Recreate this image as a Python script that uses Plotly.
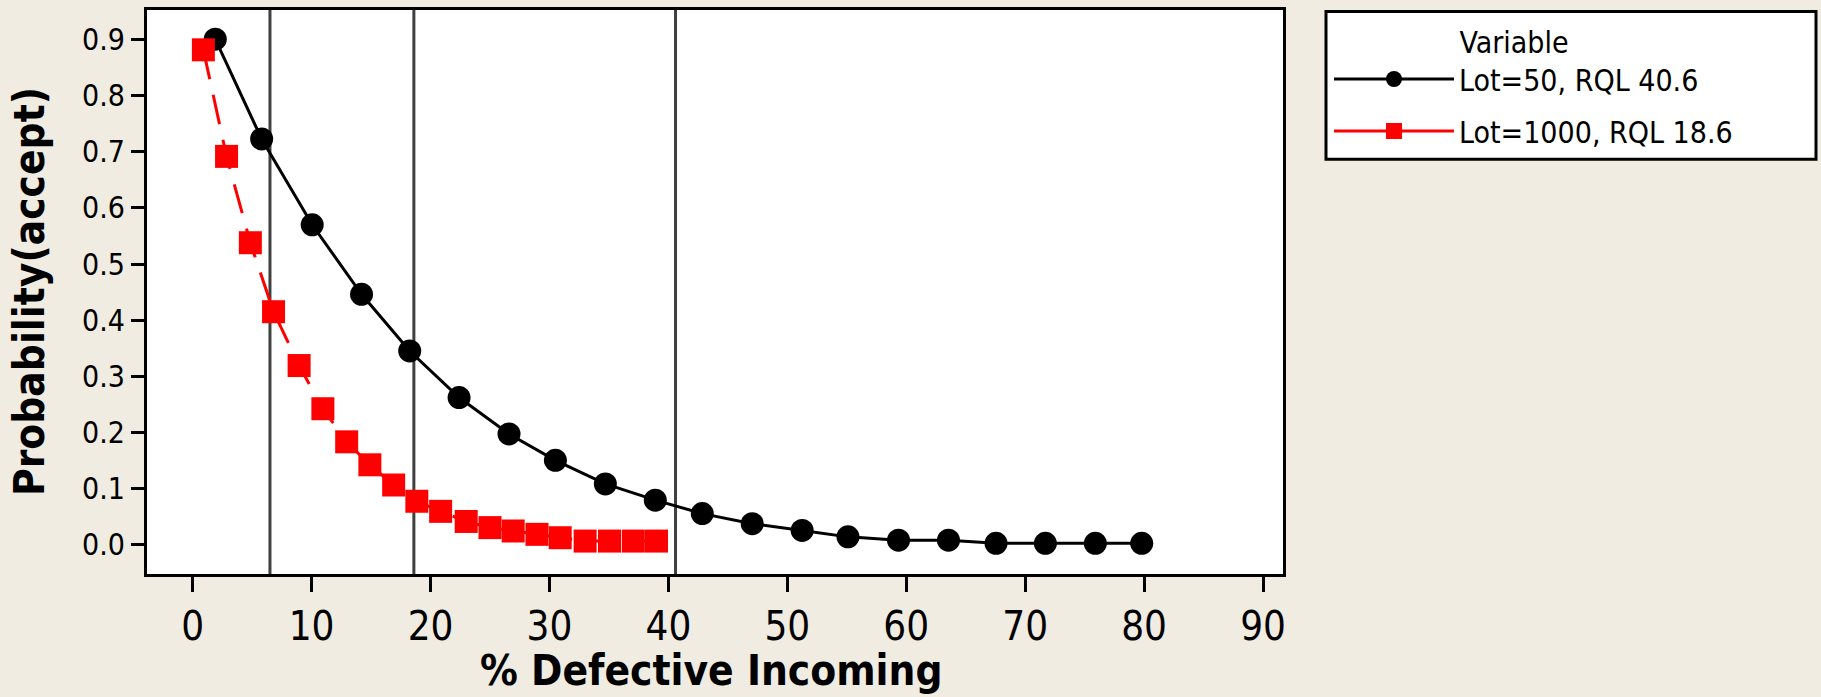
import plotly.graph_objects as go

# ---- data ----
lot50_x = [1.9, 5.8, 10.05, 14.2, 18.25, 22.4, 26.6, 30.5, 34.7, 38.9,
           42.85, 47.05, 51.25, 55.1, 59.35, 63.55, 67.55, 71.7, 75.9, 79.8]
lot50_y = [0.901, 0.723, 0.570, 0.446, 0.345, 0.262, 0.197, 0.150, 0.108, 0.079,
           0.055, 0.037, 0.025, 0.0135, 0.0076, 0.0076, 0.002, 0.002, 0.002, 0.002]
lot1000_x = [0.9, 2.85, 4.85, 6.8, 8.95, 10.95, 12.95, 14.9, 16.9, 18.85,
             20.85, 23.0, 25.0, 26.95, 28.95, 30.9, 33.0, 35.05, 37.05, 39.0]
lot1000_y = [0.882, 0.692, 0.538, 0.415, 0.319, 0.242, 0.183, 0.142, 0.106, 0.077,
             0.059, 0.041, 0.030, 0.024, 0.018, 0.012, 0.006, 0.006, 0.006, 0.006]
ref_lines = [6.5, 18.6, 40.6]
series_names = ["Lot=50, RQL 40.6", "Lot=1000, RQL 18.6"]
legend_title = "Variable"
x_title = "% Defective Incoming"
y_title = "Probability(accept)"
x_ticks = [0, 10, 20, 30, 40, 50, 60, 70, 80, 90]
y_ticks = [0.0, 0.1, 0.2, 0.3, 0.4, 0.5, 0.6, 0.7, 0.8, 0.9]

FONT = "DejaVu Sans Condensed, DejaVu Sans, sans-serif"
BG = "#F0ECE2"
RED = "#FF0000"
NB = "\u00a0"

# plot-area geometry in pixels (used to convert to paper fractions)
L, R, T, B = 147, 1283, 7, 574
PW, PH = R - L, B - T


def px_x(p):
    return (p - L) / PW


def px_y(p):
    return (B - p) / PH


fig = go.Figure()
fig.add_trace(go.Scatter(
    x=lot50_x, y=lot50_y, name=series_names[0], mode="lines+markers",
    line=dict(color="black", width=3),
    marker=dict(symbol="circle", size=23, color="black"),
))
fig.add_trace(go.Scatter(
    x=lot1000_x, y=lot1000_y, name=series_names[1], mode="lines+markers",
    line=dict(color=RED, width=3, dash="30px,16px"),
    marker=dict(symbol="square", size=23, color=RED),
    legendgroup="red", showlegend=False,
))
fig.add_trace(go.Scatter(
    x=[None], y=[None], name=series_names[1], mode="lines+markers",
    line=dict(color=RED, width=3),
    marker=dict(symbol="square", size=23, color=RED),
    legendgroup="red", showlegend=True,
))

for xv in ref_lines:
    fig.add_shape(type="line", x0=xv, x1=xv, xref="x", y0=0, y1=1, yref="paper",
                  line=dict(color="#404040", width=3), layer="below")

# legend frame
fig.add_shape(type="rect", xref="paper", yref="paper",
              x0=px_x(1326), x1=px_x(1816), y0=px_y(157), y1=px_y(8.5),
              line=dict(color="black", width=3), fillcolor="white", layer="above")

fig.add_annotation(text="<b>" + y_title + "</b>", xref="paper", yref="paper",
                   x=px_x(29), y=0.5, xanchor="center", yanchor="middle",
                   textangle=-90, showarrow=False,
                   font=dict(family=FONT, size=42, color="black"))
fig.add_annotation(text="<b>" + x_title + "</b>", xref="paper", yref="paper",
                   x=px_x(711), y=px_y(644), xanchor="center", yanchor="top",
                   showarrow=False,
                   font=dict(family=FONT, size=42, color="black"))

fig.update_layout(
    width=1821, height=697,
    margin=dict(l=L, r=1821 - R, t=T, b=697 - B),
    paper_bgcolor=BG, plot_bgcolor="white",
    font=dict(family=FONT, color="black"),
    showlegend=True,
    legend=dict(
        title=dict(text=NB * 15 + legend_title, font=dict(family=FONT, size=30)),
        x=px_x(1329), y=px_y(11), xanchor="left", yanchor="top",
        bgcolor="rgba(0,0,0,0)", borderwidth=0,
        font=dict(family=FONT, size=30, color="black"),
        itemwidth=120, itemsizing="trace",
    ),
    xaxis=dict(
        range=[-3.84, 91.68], tickvals=x_ticks, ticks="outside", ticklen=15,
        tickwidth=3, tickcolor="black", showline=True, linewidth=3, linecolor="black",
        mirror=True, showgrid=False, zeroline=False,
        tickfont=dict(family=FONT, size=40, color="black"),
    ),
    yaxis=dict(
        range=[-0.0527, 0.953], tickvals=y_ticks, tickformat=".1f", ticks="outside",
        ticklen=13, tickwidth=3, tickcolor="black", showline=True, linewidth=3,
        linecolor="black", mirror=True, showgrid=False, zeroline=False,
        tickfont=dict(family=FONT, size=30, color="black"),
    ),
)

fig.write_html("out.html")
